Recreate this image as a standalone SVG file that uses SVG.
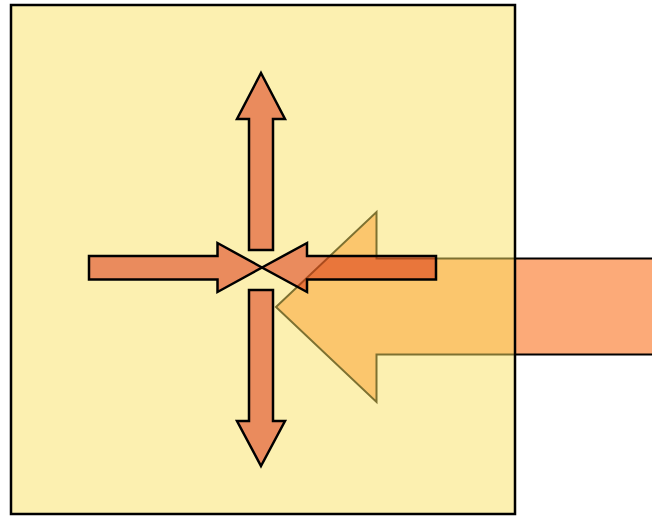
<svg xmlns="http://www.w3.org/2000/svg" width="652" height="516" viewBox="0 0 652 516">
<style>
.big{fill:#fcaa78;stroke:#000;stroke-width:2;stroke-linejoin:miter}
.box{fill:#f9e161;fill-opacity:0.5;stroke:#000;stroke-width:2.5}
.small{fill:#d8260a;fill-opacity:0.5;stroke:#000;stroke-width:2.5;stroke-linejoin:miter}
</style>
<g id="incoming-arrow">
<polygon class="big" points="276,307 376.5,212 376.5,258.5 660,258.5 660,354.5 376.5,354.5 376.5,402"/>
</g>
<g id="box">
<rect class="box" x="11" y="5" width="504" height="509"/>
</g>
<g id="arrows">
<polygon id="arrow-up" class="small" points="261,73 285,119 273,119 273,250 249,250 249,119 237,119"/>
<polygon id="arrow-down" class="small" points="261,466 285,421 273,421 273,290 249,290 249,421 237,421"/>
<polygon id="arrow-right" class="small" points="262,267.5 217.5,243 217.5,256 89,256 89,279.5 217.5,279.5 217.5,292"/>
<polygon id="arrow-left" class="small" points="262,267.5 307,243 307,256 436,256 436,279.5 307,279.5 307,292"/>
</g>
</svg>
